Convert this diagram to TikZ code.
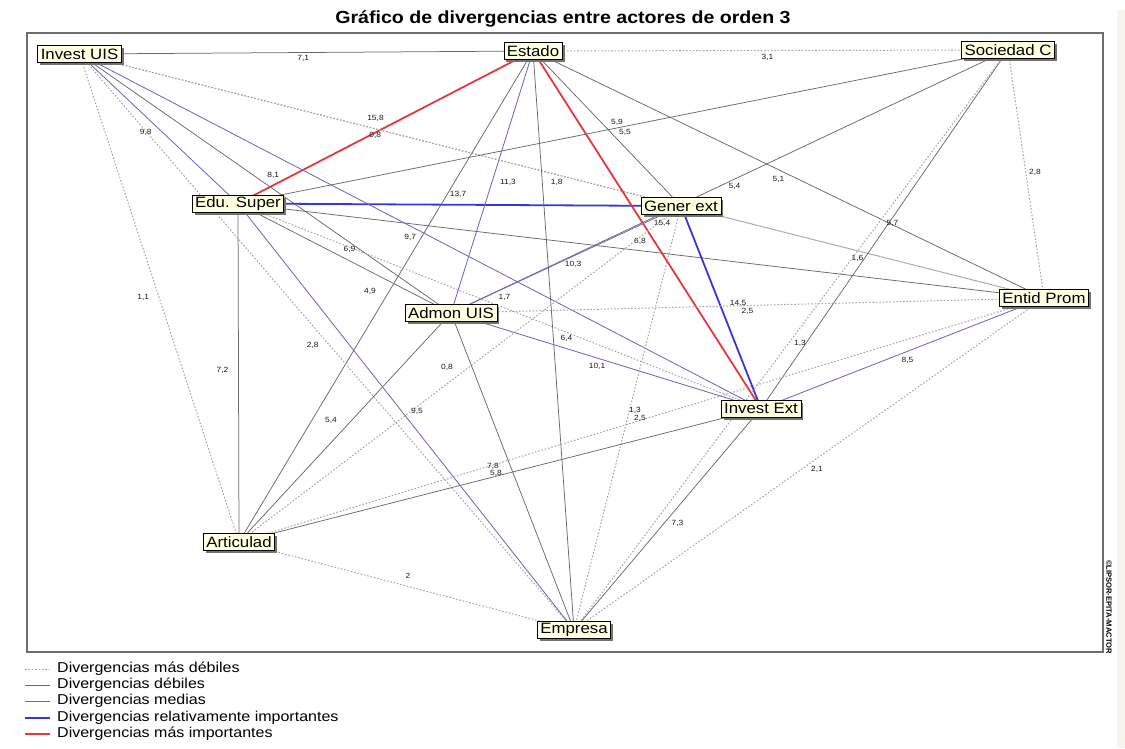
\documentclass[tikz,border=0pt]{standalone}
\usepackage{fontspec}
\newfontfamily\actorfont{Liberation Sans}[FakeStretch=1.12]
\newfontfamily\plainfont{Liberation Sans}
\usepackage{tikz}
\usetikzlibrary{
    shadows,
    backgrounds
}
\definecolor{Cdot}{RGB}{165, 165, 165}
\definecolor{Cweak}{RGB}{105, 105, 105}
\definecolor{Cmed}{RGB}{105, 105, 205}
\definecolor{Cstrong}{RGB}{55, 55, 215}
\definecolor{Cmax}{RGB}{232, 55, 60}
\definecolor{Ctip}{RGB}{255, 255, 225}
\definecolor{Cframe}{RGB}{110, 110, 110}
\definecolor{Cband}{RGB}{246, 244, 236}
\tikzset{
    actor/.style={
        rectangle, draw=black, line width=0.7pt, fill=Ctip, text=black,
        minimum height=17pt, inner xsep=3pt, inner ysep=1pt,
        font=\actorfont\fontsize{15}{16}\selectfont,
        drop shadow={shadow xshift=2.5pt, shadow yshift=-2.5pt, fill=black!55, opacity=1}
    },
    dmin/.style={Cdot, line width=1pt, dash pattern=on 1.6pt off 1.8pt},
    dbaja/.style={Cweak, line width=0.75pt},
    dmed/.style={Cmed, line width=0.85pt},
    dalta/.style={Cstrong, line width=1.8pt},
    dmax/.style={Cmax, line width=1.8pt},
    lbl/.style={font=\actorfont\fontsize{7.5}{8}\selectfont, inner sep=0pt, text=black!90},
    leyenda/.style={anchor=west, inner sep=0pt, font=\actorfont\fontsize{14.3}{16}\selectfont},
}

\begin{document}
\begin{tikzpicture}[x=1pt, y=-1pt]
    \useasboundingbox (0,0) rectangle (1125,748);

    % ── título y marco ──────────────────────────────────
    \node [font=\actorfont\bfseries\fontsize{17.5}{20}\selectfont]
        (titulo) at (563,19) {Gráfico de divergencias entre actores de orden 3};
    \draw [Cframe, line width=1.3pt] (27,33) rectangle (1103,652);
    \fill [Cband] (1117,10) rectangle (1125,748);
    \node [rotate=-90, font=\plainfont\bfseries\fontsize{7.6}{8}\selectfont, inner sep=0pt]
        (marca) at (1109,607) {©LIPSOR-EPITA-MACTOR};

    % ── actores ─────────────────────────────────────────
    \node [actor] (iuis)   at (79.5,54) {Invest UIS};
    \node [actor] (estado) at (533,51)  {Estado};
    \node [actor] (socc)   at (1008,50) {Sociedad C};
    \node [actor] (edu)    at (238,203.5) {Edu. Super};
    \node [actor] (gener)  at (681,206) {Gener ext};
    \node [actor] (entid)  at (1044,298) {Entid Prom};
    \node [actor] (admon)  at (451,313) {Admon UIS};
    \node [actor] (iext)   at (761,408.5) {Invest Ext};
    \node [actor] (artic)  at (239,542) {Articulad};
    \node [actor] (empr)   at (574,630) {Empresa};

    % ── divergencias ────────────────────────────────────
    \begin{scope}[on background layer]
    \draw [dbaja] (iuis.center) -- node [lbl, xshift=-3, yshift=-5.5] {7,1} (estado.center);
    \draw [dmin]  (estado.center) -- node [lbl, xshift=-3, yshift=-6.5] {3,1} (socc.center);
    \draw [dmax]  (edu.center) -- node [lbl, xshift=-10, yshift=9] {15,8} (estado.center);
    \draw [dmin]  (iuis.center) -- node [lbl, xshift=-5, yshift=-5] {0,8} (gener.center);
    \draw [dmed]  (iuis.center) -- node [lbl, xshift=-13, yshift=-4] {9,8} (edu.center);
    \draw [dbaja] (iuis.center) -- node [lbl, xshift=8, yshift=8] {8,1} (admon.center);
    \draw [dalta] (edu.center) -- node [lbl, xshift=-1.5, yshift=10] {13,7} (gener.center);
    \draw [dmed]  (estado.center) -- node [lbl, xshift=16, yshift=0] {11,3} (admon.center);
    \draw [dmin]  (iuis.center) -- node [lbl, xshift=-5, yshift=-6] {1,8} (entid.center);
    \draw [dbaja] (estado.center) -- node [lbl, xshift=10, yshift=6.5] {5,9} (gener.center);
    \draw [dbaja] (edu.center) -- node [lbl, xshift=2, yshift=-6] {5,5} (socc.center);
    \draw [dbaja] (socc.center) -- node [lbl, xshift=5, yshift=-5] {5,4} (admon.center);
    \draw [dbaja] (estado.center) -- node [lbl, xshift=-10, yshift=-5] {5,1} (entid.center);
    \draw [dmin]  (socc.center) -- node [lbl, xshift=9, yshift=2] {2,8} (entid.center);
    \draw [dmax]  (estado.center) -- node [lbl, xshift=15, yshift=6] {15,4} (iext.center);
    \draw [dbaja] (edu.center) -- node [lbl, xshift=-1, yshift=9] {6,8} (entid.center);
    \draw [dmed]  (iuis.center) -- node [lbl, xshift=-10, yshift=-6] {9,7} (iext.center);
    \draw [dbaja] (edu.center) -- node [lbl, xshift=5, yshift=9] {6,9} (admon.center);
    \draw [dmed]  (gener.center) -- node [lbl, xshift=7, yshift=-5] {10,3} (admon.center);
    \draw [dbaja] (socc.center) -- node [lbl, xshift=8, yshift=6] {5,7} (iext.center);
    \draw [dmin]  (gener.center) -- node [lbl, xshift=-5, yshift=-6] {1,6} (entid.center);
    \draw [dmin]  (iuis.center) -- node [lbl, xshift=-16, yshift=1] {1,1} (artic.center);
    \draw [dbaja] (estado.center) -- node [lbl, xshift=-16, yshift=5] {4,9} (artic.center);
    \draw [dmin]  (edu.center) -- node [lbl, xshift=5, yshift=9] {1,7} (iext.center);
    \draw [dalta] (gener.center) -- node [lbl, xshift=17, yshift=4] {14,5} (iext.center);
    \draw [dmin]  (admon.center) -- node [lbl, xshift=0, yshift=-6] {2,5} (entid.center);
    \draw [dbaja] (estado.center) -- node [lbl, xshift=13, yshift=2] {6,4} (empr.center);
    \draw [dmed]  (admon.center) -- node [lbl, xshift=-9, yshift=-6] {10,1} (iext.center);
    \draw [dbaja] (edu.center) -- node [lbl, xshift=-16, yshift=2] {7,2} (artic.center);
    \draw [dmin]  (iuis.center) -- node [lbl, xshift=-14, yshift=-3] {2,8} (empr.center);
    \draw [dmin]  (gener.center) -- node [lbl, xshift=-13, yshift=7] {0,8} (artic.center);
    \draw [dmed]  (entid.center) -- node [lbl, xshift=5, yshift=-7] {8,5} (iext.center);
    \draw [dmin]  (socc.center) -- node [lbl, xshift=9, yshift=-3] {1,3} (empr.center);
    \draw [dbaja] (admon.center) -- node [lbl, xshift=-14, yshift=7] {5,4} (artic.center);
    \draw [dmed]  (edu.center) -- node [lbl, xshift=11, yshift=5] {9,5} (empr.center);
    \draw [dmin]  (gener.center) -- node [lbl, xshift=7.5, yshift=8] {1,3} (empr.center);
    \draw [dmin]  (entid.center) -- node [lbl, xshift=-1.5, yshift=2] {2,5} (artic.center);
    \draw [dbaja] (iext.center) -- node [lbl, xshift=-7, yshift=9] {7,8} (artic.center);
    \draw [dbaja] (admon.center) -- node [lbl, xshift=-16.5, yshift=-1.5] {5,8} (empr.center);
    \draw [dmin]  (entid.center) -- node [lbl, xshift=8, yshift=-5] {2,1} (empr.center);
    \draw [dbaja] (iext.center) -- node [lbl, xshift=10, yshift=-4] {7,3} (empr.center);
    \draw [dmin]  (artic.center) -- node [lbl, xshift=1.5, yshift=10] {2} (empr.center);
    \end{scope}

    % ── leyenda ─────────────────────────────────────────
    \node [leyenda] (l1) at (57,669) {Divergencias más débiles};
    \node [leyenda] (l2) at (57,685) {Divergencias débiles};
    \node [leyenda] (l3) at (57,701) {Divergencias medias};
    \node [leyenda] (l4) at (57,718) {Divergencias relativamente importantes};
    \node [leyenda] (l5) at (57,734) {Divergencias más importantes};
    \draw [dmin]  ([xshift=-32pt]l1.west) -- ([xshift=-7pt]l1.west);
    \draw [dbaja] ([xshift=-32pt]l2.west) -- ([xshift=-7pt]l2.west);
    \draw [dmed]  ([xshift=-32pt]l3.west) -- ([xshift=-7pt]l3.west);
    \draw [dalta] ([xshift=-32pt]l4.west) -- ([xshift=-7pt]l4.west);
    \draw [dmax]  ([xshift=-32pt]l5.west) -- ([xshift=-7pt]l5.west);

\end{tikzpicture}
\end{document}
